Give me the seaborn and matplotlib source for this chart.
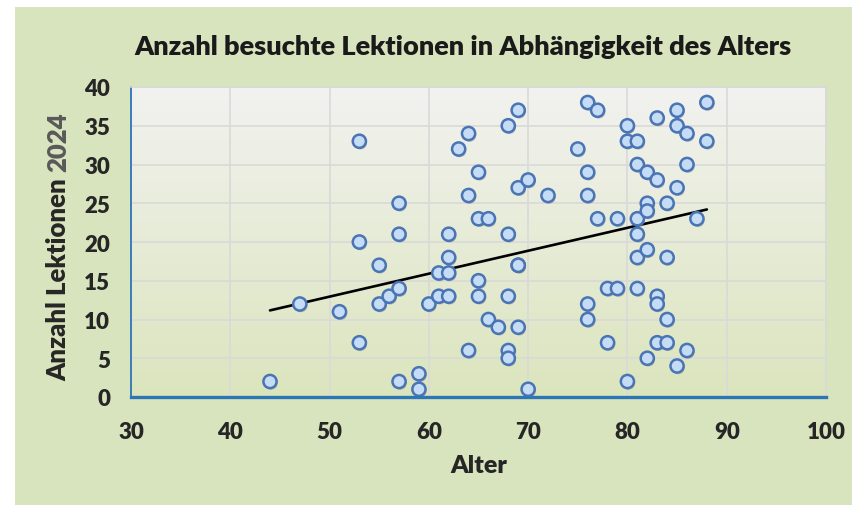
import numpy as np
import pandas as pd
import matplotlib
matplotlib.use("Agg")
import matplotlib.pyplot as plt
import matplotlib.patheffects as pe
from matplotlib.patches import Rectangle
import seaborn as sns

# Werte
alter = [44, 47, 51, 53, 53, 53, 55, 55, 56, 57, 57, 57, 57, 59, 59, 60, 61, 61,
         62, 62, 62, 62, 63, 64, 64, 64, 65, 65, 65, 65, 66, 66, 67, 68, 68, 68,
         68, 68, 69, 69, 69, 69, 69, 70, 70, 72, 75, 76, 76, 76, 76, 76, 77, 77,
         78, 78, 79, 79, 80, 80, 80, 81, 81, 81, 81, 81, 81, 82, 82, 82, 82, 82,
         83, 83, 83, 83, 83, 84, 84, 84, 84, 85, 85, 85, 85, 86, 86, 86, 87, 88, 88]
lektionen = [2, 12, 11, 33, 20, 7, 17, 12, 13, 25, 21, 14, 2, 3, 1, 12, 16, 13,
             21, 18, 16, 13, 32, 34, 26, 6, 29, 23, 15, 13, 23, 10, 9, 35, 21, 13,
             6, 5, 37, 27, 17, 17, 9, 28, 1, 26, 32, 38, 29, 26, 12, 10, 37, 23,
             14, 7, 23, 14, 35, 33, 2, 33, 30, 23, 21, 18, 14, 29, 25, 24, 19, 5,
             36, 28, 13, 12, 7, 25, 18, 10, 7, 37, 35, 27, 4, 34, 30, 6, 23, 38, 33]
x_ticks = [30, 40, 50, 60, 70, 80, 90, 100]
y_ticks = [0, 5, 10, 15, 20, 25, 30, 35, 40]

titel = "Anzahl besuchte Lektionen in Abhängigkeit des Alters"

df = pd.DataFrame({"Alter": alter, "Lektionen": lektionen})

sns.set_style("white")
plt.rcParams["font.family"] = ["Lato", "DejaVu Sans"]
W = "heavy"

fig = plt.figure(figsize=(8.52, 5.06), dpi=100, facecolor="white")
# gruener Diagrammhintergrund (links/oben ein weisser Rand)
fig.patches.append(Rectangle((15 / 852, 0), 1, 1 - 8 / 506, transform=fig.transFigure,
                             facecolor="#d7e4bd", edgecolor="none", zorder=-10))

ax = fig.add_axes([131 / 852, 1 - 398 / 506, 695 / 852, 310 / 506])
ax.set_facecolor("none")

# Verlauf in der Zeichenflaeche
grad = np.linspace(0, 1, 256).reshape(-1, 1)
cmap = matplotlib.colors.LinearSegmentedColormap.from_list("bg", ["#dbe5bd", "#f2f2f0"])
ax.imshow(grad, aspect="auto", cmap=cmap, extent=[0, 1, 1, 0],
          transform=ax.transAxes, zorder=0)

sns.regplot(data=df, x="Alter", y="Lektionen", ax=ax, ci=None, truncate=True,
            scatter_kws=dict(s=90, facecolor="#c5dcf7", edgecolor="#4a74b4",
                             linewidths=1.8, zorder=4, alpha=1),
            line_kws=dict(color="black", lw=1.9, zorder=3))

coll = ax.collections[0]
coll.set_path_effects([pe.SimplePatchShadow(offset=(0.8, -1.2), shadow_rgbFace="#7f7f7f", alpha=0.45),
                       pe.Normal()])

ax.set_xlim(30, 100)
ax.set_ylim(0, 40)
ax.set_xticks(x_ticks)
ax.set_yticks(y_ticks)
ax.tick_params(length=0, labelsize=16)
ax.tick_params(axis="x", pad=17)
ax.tick_params(axis="y", pad=15)
for lab in ax.get_xticklabels() + ax.get_yticklabels():
    lab.set_fontweight(W)

ax.grid(True, color="#d9d9d9", lw=1.2, zorder=1)
ax.set_axisbelow(True)
for s in ["top", "right"]:
    ax.spines[s].set_color("#d9d9d9")
    ax.spines[s].set_linewidth(1.2)
ax.spines["bottom"].set_color("#2e75b6")
ax.spines["bottom"].set_linewidth(2.4)
ax.spines["left"].set_color("#2e75b6")
ax.spines["left"].set_linewidth(1.3)
for s in ax.spines.values():
    s.set_zorder(5)

ax.set_xlabel("Alter", fontsize=18, fontweight=W, labelpad=9)
ax.set_ylabel("")

# y-Beschriftung: "2024" in grau
fig.text(58 / 852, 1 - 172 / 506, "Anzahl Lektionen ", rotation=90, ha="center", va="top",
         fontsize=18.5, fontweight=W, color="#262626")
fig.text(58 / 852, 1 - 172 / 506, "2024", rotation=90, ha="center", va="bottom",
         fontsize=18.5, fontweight=W, color="#595959")

fig.text(463 / 852, 1 - 47 / 506, titel, ha="center", va="center",
         fontsize=19.5, fontweight=W, color="#1a1a1a")

fig.savefig("out.png", dpi=100, facecolor=fig.get_facecolor())
